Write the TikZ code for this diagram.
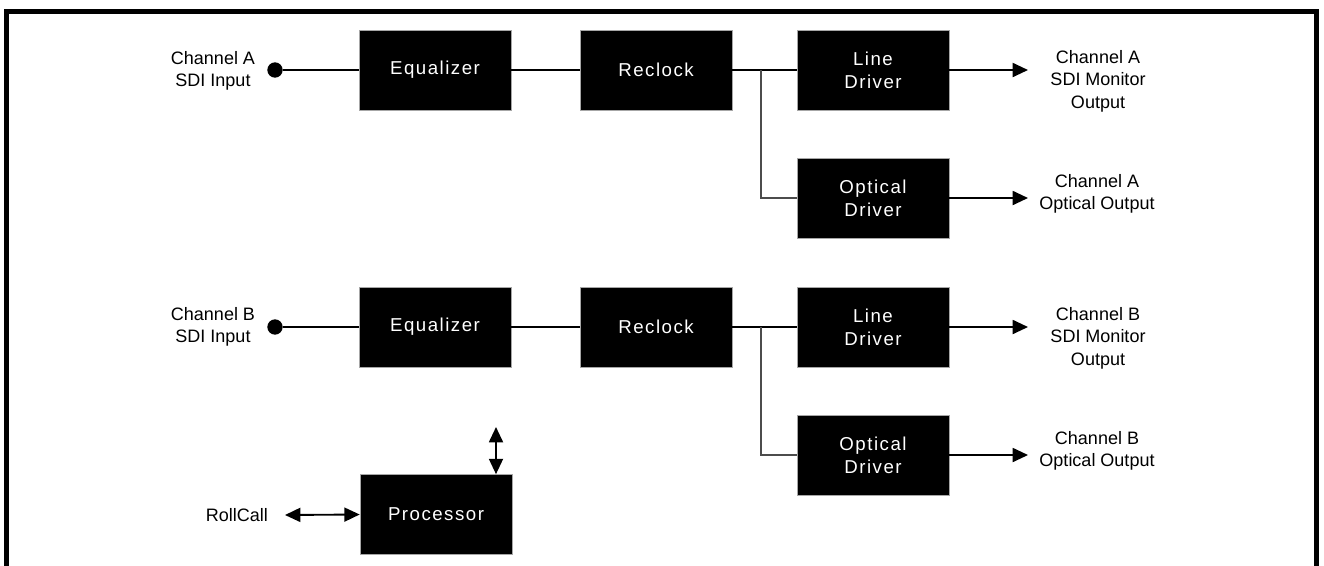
\documentclass[tikz,border=0pt]{standalone}
\usepackage{fontspec}
\setmainfont{Liberation Sans}
\newfontfamily\boxfont[LetterSpace=8]{Liberation Sans}
\usetikzlibrary{arrows.meta,positioning}
\begin{document}
\begin{tikzpicture}[x=0.75pt,y=-0.75pt,
  blk/.style={rectangle,fill=black,draw=gray!70,line width=0.5pt,minimum width=114pt,minimum height=60pt,inner sep=0pt,
    text=white,align=center,font=\boxfont\fontsize{14}{17}\selectfont},
  lbl/.style={align=center,inner sep=0pt,font=\fontsize{13.5}{16.8}\selectfont},
  wire/.style={line width=1.4pt},
  thinwire/.style={line width=0.8pt,draw=black!70},
  arr/.style={line width=1.4pt,-{Triangle[length=11.5pt,width=10.5pt]}},
  dbl/.style={line width=1.4pt,{Triangle[length=11.5pt,width=10.5pt]}-{Triangle[length=11.5pt,width=10.5pt]}},
  dot/.style={circle,fill=black,minimum size=11.5pt,inner sep=0pt}]
\useasboundingbox (0,0) rectangle (1324,565);
% frame (open at the bottom)
\draw[line width=3.75pt] (6.5,566) -- (6.5,11) -- (1316,11) -- (1316,566);

% ---------------- Channel A ----------------
\node[lbl] (inA) at (213,71) {Channel A\\SDI Input};
\node[dot] (dotA) at (275,70) {};
\node[blk] (eqA) at (435,70) {Equalizer};
\node[blk] (rcA) at (656,70) {Reclock};
\node[blk] (ldA) at (873,70) {Line\\Driver};
\node[blk] (odA) at (873,198) {Optical\\Driver};
\coordinate (brA) at (761,70);
\coordinate (oA1) at (1028,70);
\coordinate (oA2) at (1028,198);
\node[lbl] (outA1) at (1098,81) {Channel A\\SDI Monitor\\Output};
\node[lbl] (outA2) at (1097,194) {Channel A\\Optical Output};
\draw[wire] (dotA) -- (eqA);
\draw[wire] (eqA) -- (rcA);
\draw[wire] (rcA) -- (ldA);
\draw[thinwire] (brA) |- (odA.west);
\draw[arr] (ldA.east) -- (oA1);
\draw[arr] (odA.east) -- (oA2);

% ---------------- Channel B ----------------
\node[lbl] (inB) at (213,327) {Channel B\\SDI Input};
\node[dot] (dotB) at (275,327) {};
\node[blk] (eqB) at (435,327) {Equalizer};
\node[blk] (rcB) at (656,327) {Reclock};
\node[blk] (ldB) at (873,327) {Line\\Driver};
\node[blk] (odB) at (873,455) {Optical\\Driver};
\coordinate (brB) at (761,327);
\coordinate (oB1) at (1028,327);
\coordinate (oB2) at (1028,455);
\node[lbl] (outB1) at (1098,338) {Channel B\\SDI Monitor\\Output};
\node[lbl] (outB2) at (1097,451) {Channel B\\Optical Output};
\draw[wire] (dotB) -- (eqB);
\draw[wire] (eqB) -- (rcB);
\draw[wire] (rcB) -- (ldB);
\draw[thinwire] (brB) |- (odB.west);
\draw[arr] (ldB.east) -- (oB1);
\draw[arr] (odB.east) -- (oB2);

% ---------------- Processor ----------------
\node[blk] (proc) at (436,514.5) {Processor};
\node[lbl] (roll) at (237,515) {RollCall};
\coordinate (rollend) at (285,515);
\coordinate (bus) at (496,427);
\draw[dbl] (rollend) -- (proc.west);
\draw[dbl] (bus) -- (bus |- proc.north);
\end{tikzpicture}
\end{document}
